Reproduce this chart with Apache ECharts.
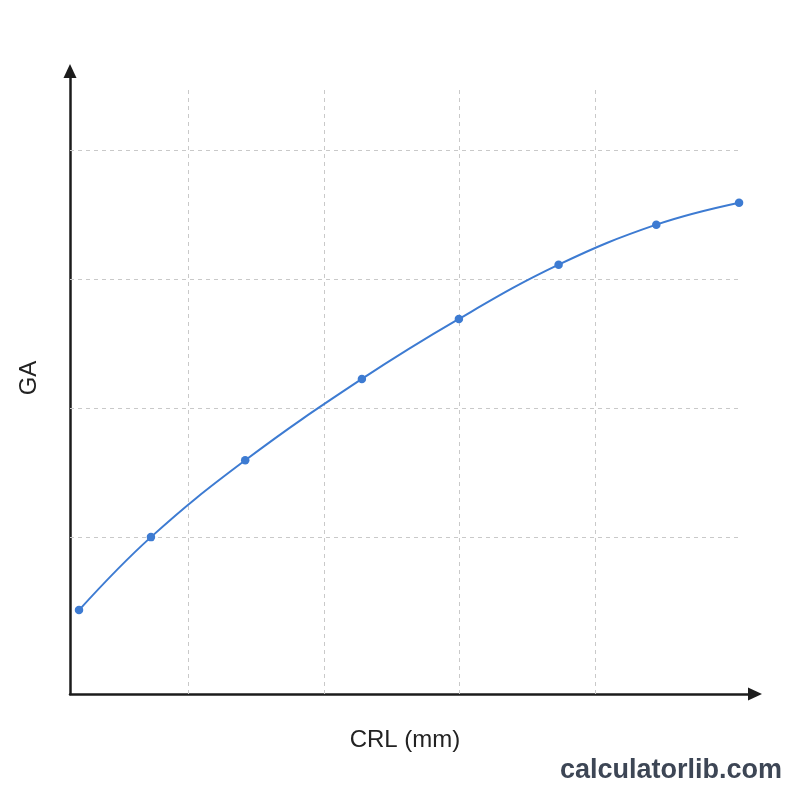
<!DOCTYPE html>
<html lang="en">
<head>
	<meta charset="UTF-8">
	<title>CRL vs GA</title>
</head>
<body style="margin:0;background:#fff;">
	<div id='main' style="width:800px;height:800px;"></div>
</body>
<script type="text/javascript" src="https://cdn.jsdelivr.net/npm/echarts@6/dist/echarts.min.js"></script>
<script type="text/javascript">
    // data (no tick labels shown, units estimated)
    var crl = [3.9, 14.5, 28.4, 45.6, 59.9, 74.6, 89.0, 101.2];
    var ga = [6.87, 8.0, 9.19, 10.45, 11.38, 12.22, 12.84, 13.18];

    // dashed grid positions
    var xGrid = [20, 40, 60, 80];
    var yGrid = [8, 10, 12, 14];

    var xMin = 2.57, xMax = 103.55;
    var yMin = 5.57, yMax = 15.22;
    var gridTop = 14.96, gridRight = 101.05;

    var gridLines = [];
    for (var i = 0; i < xGrid.length; i++) {
        gridLines.push([{coord: [xGrid[i], yMin]}, {coord: [xGrid[i], gridTop]}]);
    }
    for (var j = 0; j < yGrid.length; j++) {
        gridLines.push([{coord: [xMin, yGrid[j]]}, {coord: [gridRight, yGrid[j]]}]);
    }

    var points = [];
    for (var k = 0; k < crl.length; k++) {
        points.push([crl[k], ga[k]]);
    }

    // arrow head is centred on the axis end
    var axisStyle = {
        show: true,
        symbol: ['none', 'triangle'],
        symbolSize: [13, 14],
        lineStyle: {color: '#1c1c1c', width: 2.5}
    };

var option = {
    animation: false,
    backgroundColor: '#fff',
    grid: {left: 70, right: 45, top: 71, bottom: 106},
    xAxis: {
        type: 'value',
        min: xMin,
        max: xMax,
        axisLine: axisStyle,
        axisTick: {show: false},
        axisLabel: {show: false},
        splitLine: {show: false}
    },
    yAxis: {
        type: 'value',
        min: yMin,
        max: yMax,
        axisLine: axisStyle,
        axisTick: {show: false},
        axisLabel: {show: false},
        splitLine: {show: false}
    },
    series: [
        {
            type: 'line',
            data: points,
            smooth: 0.4,
            symbol: 'circle',
            symbolSize: 8.5,
            z: 5,
            lineStyle: {color: '#3d7bd2', width: 2},
            itemStyle: {color: '#3d7bd2'},
            markLine: {
                silent: true,
                symbol: ['none', 'none'],
                label: {show: false},
                lineStyle: {color: '#c9c9c9', width: 1, type: [4, 4]},
                data: gridLines,
                z: 1
            }
        }
    ],
    graphic: [
        {
            type: 'text',
            x: 405,
            y: 740,
            style: {
                text: 'CRL (mm)',
                font: '24px "Liberation Sans", Arial, sans-serif',
                fill: '#222',
                align: 'center',
                verticalAlign: 'middle'
            }
        },
        {
            type: 'text',
            x: 29,
            y: 378,
            rotation: Math.PI / 2,
            style: {
                text: 'GA',
                font: '24px "Liberation Sans", Arial, sans-serif',
                fill: '#222',
                align: 'center',
                verticalAlign: 'middle'
            }
        },
        {
            type: 'text',
            right: 18,
            top: 757,
            style: {
                text: 'calculatorlib.com',
                font: 'bold 27px "Liberation Sans", Arial, sans-serif',
                fill: '#3d4655'
            }
        }
    ]
};
	myChart = echarts.init(document.getElementById('main'));
	myChart.setOption(option);
</script>
</html>
